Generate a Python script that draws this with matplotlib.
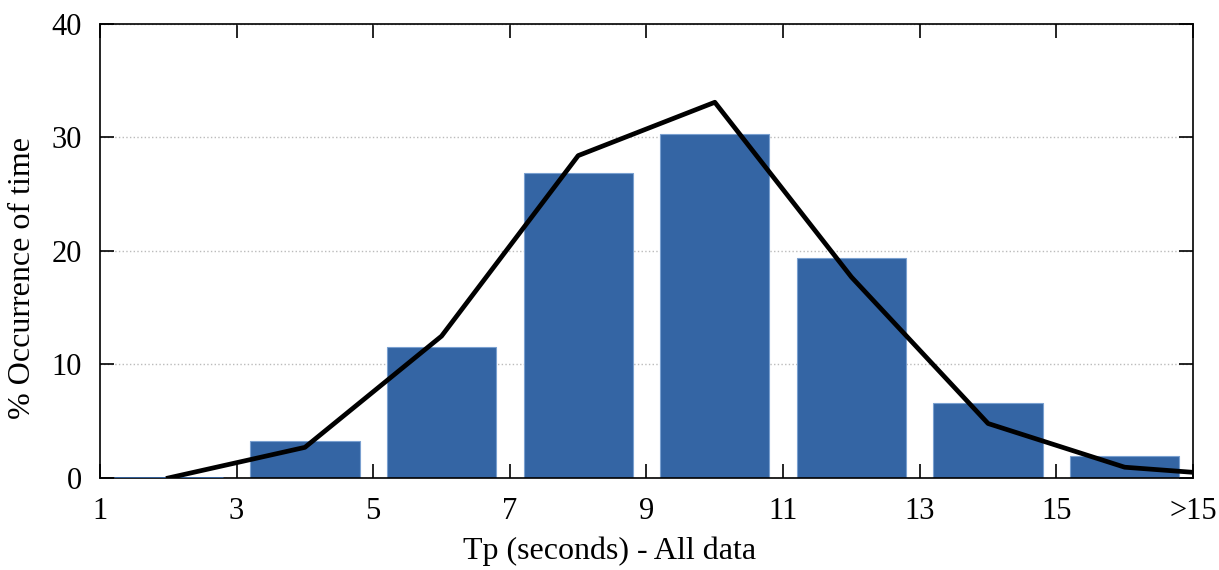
import matplotlib
matplotlib.use("Agg")
import matplotlib.pyplot as plt

# bar histogram of Tp
bar_x = [2, 4, 6, 8, 10, 12, 14, 16]
bar_pct = [0.0, 3.3, 11.5, 26.9, 30.3, 19.4, 6.6, 1.9]

# fitted curve
line_x = [2, 4, 6, 8, 10, 12, 14, 16, 17]
line_pct = [0.0, 2.7, 12.5, 28.4, 33.1, 17.7, 4.8, 0.95, 0.5]

tick_pos = [1, 3, 5, 7, 9, 11, 13, 15, 17]
tick_lab = ["1", "3", "5", "7", "9", "11", "13", "15", ">15"]

plt.rcParams['font.family'] = ['Liberation Serif', 'DejaVu Serif']

fig = plt.figure(figsize=(12.19, 5.70), dpi=100)
ax = fig.add_axes([0.082, 0.1614, 0.8967, 0.7966])

ax.bar(bar_x, bar_pct, width=1.6, color='#3465a4', edgecolor='#7aa0d0',
       linewidth=0.8, zorder=2)
# zero-height first bar shows as a thin blue line on the axis
ax.hlines(0, bar_x[0] - 0.8, bar_x[0] + 0.8, color='#3465a4', linewidth=2, zorder=4)
ax.plot(line_x, line_pct, color='black', linewidth=3.4, zorder=5,
        solid_joinstyle='round')

ax.set_xlim(1, 17)
ax.set_ylim(0, 40)
ax.set_xticks(tick_pos)
ax.set_xticklabels(tick_lab)
ax.set_yticks([0, 10, 20, 30, 40])
ax.tick_params(direction='in', length=10, width=1.2, labelsize=22,
               top=True, right=True)
ax.tick_params(axis='x', pad=14)
ax.tick_params(axis='y', pad=13)
ax.yaxis.grid(True, linestyle=':', color='#bbbbbb', linewidth=1, zorder=0)
ax.set_axisbelow(True)
for s in ax.spines.values():
    s.set_linewidth(1.2)
    s.set_zorder(3)

ax.set_xlabel("Tp (seconds) - All data", fontsize=23)
ax.set_ylabel("% Occurrence of time", fontsize=23)
ax.xaxis.set_label_coords(0.466, -0.128)
ax.yaxis.set_label_coords(-0.058, 0.44)

fig.savefig("out.png", dpi=100)
